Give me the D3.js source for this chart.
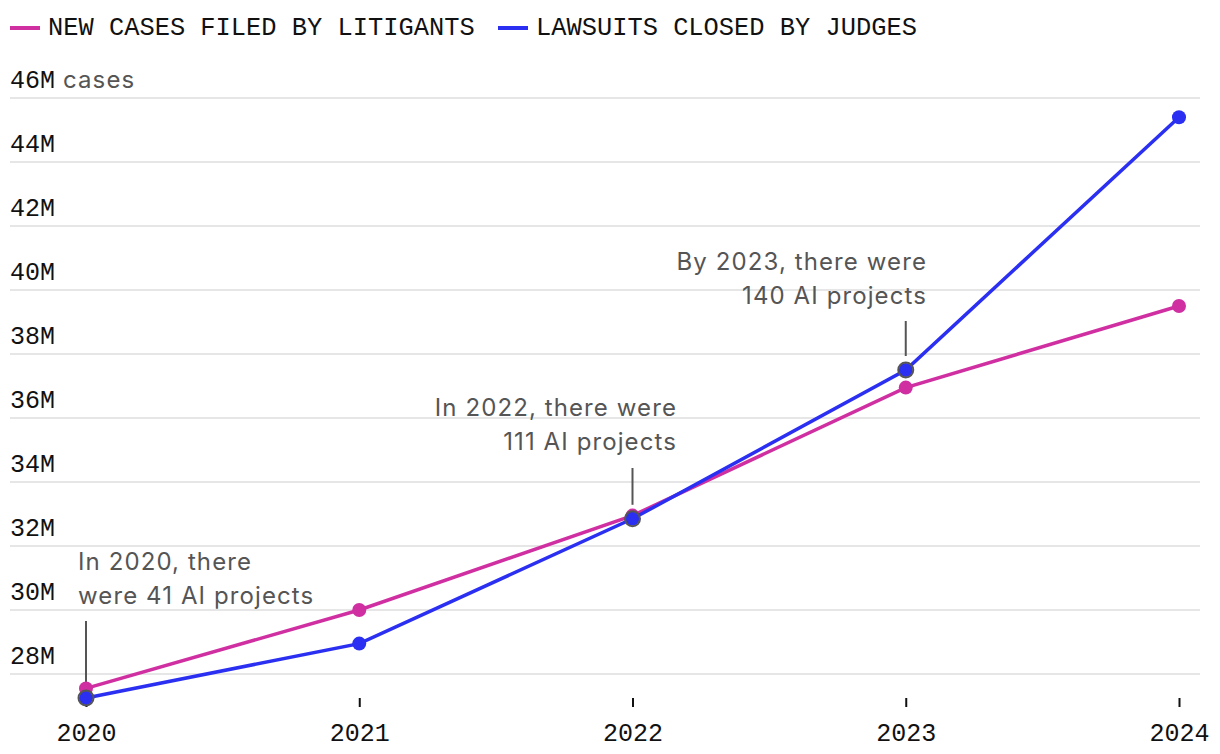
<!DOCTYPE html>
<html>
<head>
<meta charset="utf-8">
<script src="https://cdn.jsdelivr.net/npm/d3@7"></script>
<style>
  body { margin: 0; background: #fff; }
  .mono { font-family: "Liberation Mono", "DejaVu Sans Mono", monospace; }
  .sans { font-family: Inter, "Noto Sans", sans-serif; letter-spacing: 1.1px; }
</style>
</head>
<body>
<div id="chart"></div>
<script>
// data
var years = [2020, 2021, 2022, 2023, 2024];
var newCases = [27.55, 30.0, 32.95, 36.95, 39.5];
var closedCases = [27.25, 28.95, 32.85, 37.5, 45.4];
var yTicks = [28, 30, 32, 34, 36, 38, 40, 42, 44, 46];
var notes = [
    { year: 2020, lines: ["In 2020, there", "were 41 AI projects"], anchor: "start" },
    { year: 2022, lines: ["In 2022, there were", "111 AI projects"], anchor: "end" },
    { year: 2023, lines: ["By 2023, there were", "140 AI projects"], anchor: "end" }
];

var svgWidth = 1220;
var svgHeight = 754;

var pink = "#d02fa2";
var blue = "#2a2ff2";

var svg = d3.select("#chart")
    .append("svg")
    .attr("width", svgWidth)
    .attr("height", svgHeight);

var xScale = d3.scaleLinear()
    .domain([2020, 2024])
    .range([86, 1179]);

var yScale = d3.scaleLinear()
    .domain([27, 46])
    .range([706, 98]);

// gridlines + y labels
var grid = svg.append("g");
grid.selectAll("line")
    .data(yTicks)
    .enter()
    .append("line")
    .attr("x1", 10)
    .attr("x2", 1200)
    .attr("y1", d => yScale(d))
    .attr("y2", d => yScale(d))
    .attr("stroke", "#e6e6e6")
    .attr("stroke-width", 2);

grid.selectAll("text")
    .data(yTicks)
    .enter()
    .append("text")
    .attr("class", "mono")
    .attr("x", 10)
    .attr("y", d => yScale(d) - 10)
    .attr("font-size", "25px")
    .attr("fill", "#111")
    .text(d => d + "M");

svg.append("text")
    .attr("class", "sans")
    .attr("x", 63)
    .attr("y", yScale(46) - 10)
    .attr("font-size", "24px")
    .attr("fill", "#555")
    .text("cases");

// x axis
var xAxis = d3.axisBottom(xScale)
    .tickValues(years)
    .tickFormat(d3.format("d"))
    .tickSize(9)
    .tickPadding(16);

var xg = svg.append("g")
    .attr("transform", "translate(0, 698)")
    .call(xAxis);
xg.select(".domain").remove();
xg.selectAll(".tick line").attr("stroke", "#111").attr("stroke-width", 2);
xg.selectAll(".tick text")
    .attr("class", "mono")
    .attr("font-size", "25px")
    .attr("fill", "#111");

// annotations
var noteTop = { 2020: 621, 2022: 468, 2023: 321 };
var noteText = { 2020: 570, 2022: 416, 2023: 270 };
var noteX = { 2020: 78, 2022: 677, 2023: 927 };

notes.forEach(function (n) {
    var i = years.indexOf(n.year);
    svg.append("line")
        .attr("x1", xScale(n.year))
        .attr("x2", xScale(n.year))
        .attr("y1", noteTop[n.year])
        .attr("y2", yScale(closedCases[i]) - 14)
        .attr("stroke", "#555")
        .attr("stroke-width", 2);

    var t = svg.append("text")
        .attr("class", "sans")
        .attr("font-size", "24px")
        .attr("fill", "#555")
        .attr("text-anchor", n.anchor);
    n.lines.forEach(function (l, k) {
        t.append("tspan")
            .attr("x", noteX[n.year])
            .attr("y", noteText[n.year] + k * 34)
            .text(l);
    });
});

// lines
var line = d3.line()
    .x((d, i) => xScale(years[i]))
    .y(d => yScale(d));

svg.append("path")
    .datum(newCases)
    .attr("d", line)
    .attr("fill", "none")
    .attr("stroke", pink)
    .attr("stroke-width", 3.5);

svg.append("path")
    .datum(closedCases)
    .attr("d", line)
    .attr("fill", "none")
    .attr("stroke", blue)
    .attr("stroke-width", 3.5);

svg.selectAll(".dot-new")
    .data(newCases)
    .enter()
    .append("circle")
    .attr("cx", (d, i) => xScale(years[i]))
    .attr("cy", d => yScale(d))
    .attr("r", 7)
    .attr("fill", pink);

svg.selectAll(".dot-closed")
    .data(closedCases)
    .enter()
    .append("circle")
    .attr("cx", (d, i) => xScale(years[i]))
    .attr("cy", d => yScale(d))
    .attr("r", 7)
    .attr("fill", blue);

// rings on annotated points
svg.selectAll(".ring")
    .data(notes)
    .enter()
    .append("circle")
    .attr("cx", d => xScale(d.year))
    .attr("cy", d => yScale(closedCases[years.indexOf(d.year)]))
    .attr("r", 7.5)
    .attr("fill", "none")
    .attr("stroke", "#555")
    .attr("stroke-width", 2);

// legend
var legendItems = [
    { label: "NEW CASES FILED BY LITIGANTS", color: pink, x: 10 },
    { label: "LAWSUITS CLOSED BY JUDGES", color: blue, x: 498 }
];
var legend = svg.selectAll(".legend")
    .data(legendItems)
    .enter()
    .append("g")
    .attr("transform", d => `translate(${d.x}, 0)`);

legend.append("line")
    .attr("x1", 0)
    .attr("x2", 30)
    .attr("y1", 28)
    .attr("y2", 28)
    .attr("stroke", d => d.color)
    .attr("stroke-width", 4);

legend.append("text")
    .attr("class", "mono")
    .attr("x", 38)
    .attr("y", 35)
    .attr("font-size", "25.4px")
    .attr("fill", "#111")
    .text(d => d.label);
</script>
</body>
</html>
